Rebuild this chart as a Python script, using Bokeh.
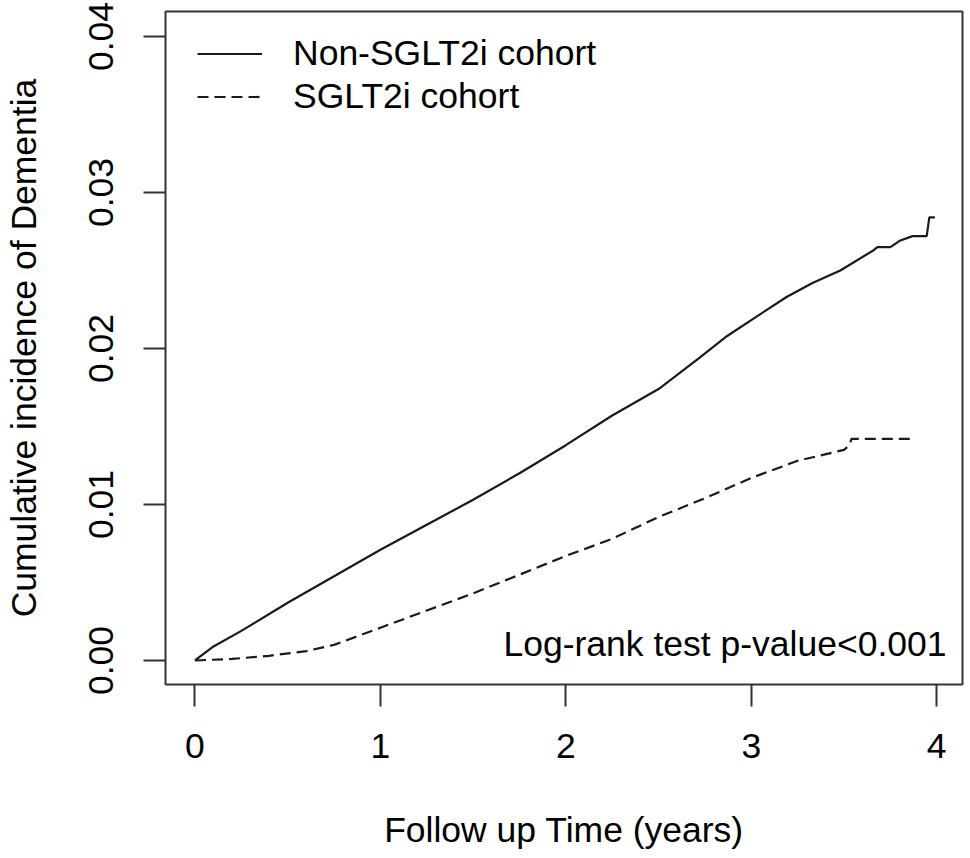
from bokeh.plotting import figure
from bokeh.models import Range1d, FixedTicker, PrintfTickFormatter, Label
from bokeh.embed import file_html
from bokeh.resources import INLINE

# ---- data ----
years_non = [0.0, 0.1, 0.25, 0.5, 0.75, 1.0, 1.25, 1.5, 1.75, 2.0, 2.25, 2.5,
             2.72, 2.87, 3.01, 3.19, 3.33, 3.48, 3.66, 3.68, 3.75, 3.80, 3.87,
             3.946, 3.96, 3.99]
inc_non = [0.0, 0.0009, 0.0019, 0.0037, 0.0054, 0.0071, 0.0087, 0.0103, 0.0120,
           0.0138, 0.0157, 0.0174, 0.0194, 0.0208, 0.0219, 0.0233, 0.0242, 0.0250,
           0.0263, 0.0265, 0.0265, 0.0269, 0.0272, 0.0272, 0.0284, 0.0284]

years_sglt = [0.0, 0.2, 0.4, 0.6, 0.75, 1.0, 1.25, 1.5, 1.75, 2.0, 2.25, 2.5,
              2.75, 3.0, 3.25, 3.5, 3.53, 3.54, 3.87]
inc_sglt = [0.0, 0.0001, 0.0003, 0.0006, 0.0010, 0.0021, 0.0032, 0.0043, 0.0055,
            0.0067, 0.0078, 0.0092, 0.0104, 0.0117, 0.0128, 0.0135, 0.0138, 0.0142,
            0.0142]

x_ticks = [0, 1, 2, 3, 4]
y_ticks = [0.0, 0.01, 0.02, 0.03, 0.04]
series_names = ["Non-SGLT2i cohort", "SGLT2i cohort"]
x_title = "Follow up Time (years)"
y_title = "Cumulative incidence of Dementia"
note_text = "Log-rank test p-value<0.001"

# ---- layout ----
FONT = "Liberation Sans"
FS = "35.5px"
X0, X1 = -0.159, 4.139
Y0, Y1 = -0.00154, 0.0416
FW, FH = 797, 673
FL, FT = 165, 11   # frame left/top in page pixels
H = 858


def dx(px):
    return X0 + (px - FL) / FW * (X1 - X0)


def dy(py):
    return Y1 - (py - FT) / FH * (Y1 - Y0)


p = figure(frame_width=FW, frame_height=FH,
           x_range=Range1d(X0, X1), y_range=Range1d(Y0, Y1),
           output_backend="svg", toolbar_location=None,
           min_border_left=FL, min_border_right=4,
           min_border_top=FT, min_border_bottom=H - FT - FH)

p.background_fill_color = "white"
p.border_fill_color = "white"
p.outline_line_color = "#333333"
p.outline_line_width = 2
p.xgrid.visible = False
p.ygrid.visible = False

for ax in (p.xaxis[0], p.yaxis[0]):
    ax.axis_line_color = None
    ax.major_tick_out = 22
    ax.major_tick_in = 0
    ax.major_tick_line_color = "#333333"
    ax.major_tick_line_width = 2
    ax.minor_tick_line_color = None
    ax.major_label_text_font = FONT
    ax.major_label_text_font_size = FS
    ax.major_label_text_color = "black"
    ax.axis_label_text_font = FONT
    ax.axis_label_text_font_size = FS
    ax.axis_label_text_font_style = "normal"
    ax.axis_label_text_color = "black"

p.xaxis.ticker = FixedTicker(ticks=x_ticks)
p.xaxis.formatter = PrintfTickFormatter(format="%d")
p.xaxis.major_label_standoff = 27
p.xaxis.axis_label = x_title
p.xaxis.axis_label_standoff = 49

p.yaxis.ticker = FixedTicker(ticks=y_ticks)
p.yaxis.formatter = PrintfTickFormatter(format="%.2f")
p.yaxis.major_label_orientation = "vertical"
p.yaxis.major_label_standoff = 30
p.yaxis.axis_label = y_title
p.yaxis.axis_label_standoff = 43

p.line(years_non, inc_non, line_color="#1a1a1a", line_width=2.2,
       legend_label=series_names[0])
p.line(years_sglt, inc_sglt, line_color="#1a1a1a", line_width=2.2,
       line_dash="11 6", legend_label=series_names[1])

lg = p.legend[0]
lg.location = (197 - FL, 684 - 118)
lg.margin = 0
lg.padding = 0
lg.spacing = 0
lg.glyph_width = 65
lg.glyph_height = 43
lg.label_height = 43
lg.label_standoff = 31
lg.label_text_font = FONT
lg.label_text_font_size = FS
lg.label_text_color = "black"
lg.border_line_color = None
lg.background_fill_alpha = 0

p.add_layout(Label(x=dx(946), y=dy(643), text=note_text, text_align="right",
                   text_baseline="alphabetic", text_font=FONT,
                   text_font_size=FS, text_color="black"))

open("out.html", "w").write(file_html(p, INLINE))
